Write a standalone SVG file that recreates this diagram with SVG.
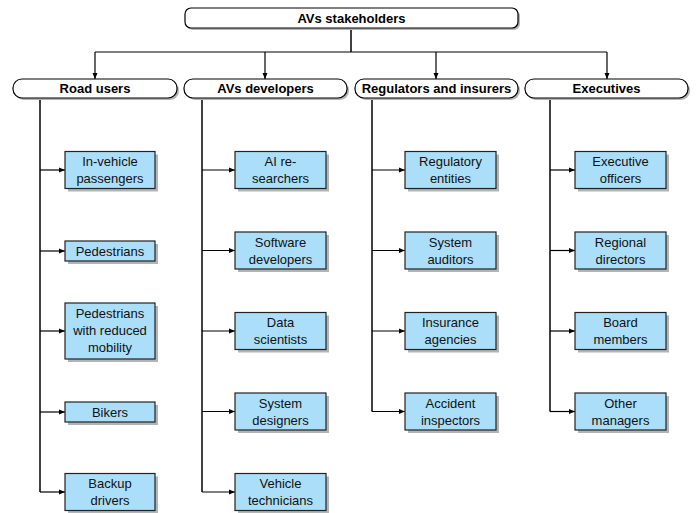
<svg xmlns="http://www.w3.org/2000/svg" width="697" height="513" viewBox="0 0 697 513">
<style>
.root{fill:#fff;stroke:#000;stroke-width:1.2}
.l1{fill:#fff;stroke:#000;stroke-width:1.2}
.leaf{fill:#abdff9;stroke:#222;stroke-width:1.2}
.sh{fill:#b4b4b4}
.tb{font-family:"Liberation Sans",Arial,sans-serif;font-size:13px;font-weight:bold;text-anchor:middle;fill:#000}
.tn{font-family:"Liberation Sans",Arial,sans-serif;font-size:13px;text-anchor:middle;fill:#111}
.ln{fill:none;stroke:#000;stroke-width:1.2}
.tr{fill:none;stroke:#000;stroke-width:1.5}
</style>
<defs>
<marker id="ah" markerUnits="userSpaceOnUse" markerWidth="6" markerHeight="6" refX="6" refY="3" orient="auto">
<path d="M0,0.5 L6,3 L0,5.5 z" fill="#000"/>
</marker>
</defs>

<g id="connectors">
<path class="tr" d="M351,28 V52"/>
<path class="ln" d="M95,52 H607"/>
<path class="ln" d="M95,52 V79" marker-end="url(#ah)"/>
<path class="ln" d="M265,52 V79" marker-end="url(#ah)"/>
<path class="ln" d="M436,52 V79" marker-end="url(#ah)"/>
<path class="ln" d="M607,52 V79" marker-end="url(#ah)"/>

<path class="tr" d="M40,98 V492"/>
<path class="ln" d="M40,170 H65" marker-end="url(#ah)"/>
<path class="ln" d="M40,251 H65" marker-end="url(#ah)"/>
<path class="ln" d="M40,331 H65" marker-end="url(#ah)"/>
<path class="ln" d="M40,412 H65" marker-end="url(#ah)"/>
<path class="ln" d="M40,492 H65" marker-end="url(#ah)"/>

<path class="tr" d="M202,98 V492"/>
<path class="ln" d="M202,170 H235" marker-end="url(#ah)"/>
<path class="ln" d="M202,250.5 H235" marker-end="url(#ah)"/>
<path class="ln" d="M202,331 H235" marker-end="url(#ah)"/>
<path class="ln" d="M202,411.5 H235" marker-end="url(#ah)"/>
<path class="ln" d="M202,492 H235" marker-end="url(#ah)"/>

<path class="tr" d="M372,98 V411.5"/>
<path class="ln" d="M372,170 H405" marker-end="url(#ah)"/>
<path class="ln" d="M372,250.5 H405" marker-end="url(#ah)"/>
<path class="ln" d="M372,331 H405" marker-end="url(#ah)"/>
<path class="ln" d="M372,411.5 H405" marker-end="url(#ah)"/>

<path class="tr" d="M550,98 V411.5"/>
<path class="ln" d="M550,170 H575" marker-end="url(#ah)"/>
<path class="ln" d="M550,250.5 H575" marker-end="url(#ah)"/>
<path class="ln" d="M550,331 H575" marker-end="url(#ah)"/>
<path class="ln" d="M550,411.5 H575" marker-end="url(#ah)"/>
</g>

<g id="root">
<rect class="sh" x="187" y="10" width="333" height="20" rx="6"/>
<rect class="root" x="185" y="8" width="333" height="20" rx="6"/>
<text class="tb" x="351.5" y="22.5">AVs stakeholders</text>
</g>

<g id="road-users">
<rect class="sh" x="15" y="81" width="164" height="19" rx="9"/>
<rect class="l1" x="13" y="79" width="164" height="19" rx="9"/>
<text class="tb" x="95" y="93">Road users</text>
</g>
<g id="avs-developers">
<rect class="sh" x="186" y="81" width="163" height="19" rx="9"/>
<rect class="l1" x="184" y="79" width="163" height="19" rx="9"/>
<text class="tb" x="265.5" y="93">AVs developers</text>
</g>
<g id="regulators">
<rect class="sh" x="357" y="81" width="163" height="19" rx="9"/>
<rect class="l1" x="355" y="79" width="163" height="19" rx="9"/>
<text class="tb" x="436.5" y="93">Regulators and insurers</text>
</g>
<g id="executives">
<rect class="sh" x="527" y="81" width="163" height="19" rx="9"/>
<rect class="l1" x="525" y="79" width="163" height="19" rx="9"/>
<text class="tb" x="606.5" y="93">Executives</text>
</g>

<!-- Road users leaves -->
<g id="in-vehicle-passengers">
<rect class="sh" x="68" y="154.5" width="90" height="37"/>
<rect class="leaf" x="65" y="151.5" width="90" height="37"/>
<text class="tn" x="110" y="166">In-vehicle</text>
<text class="tn" x="110" y="183">passengers</text>
</g>
<g id="pedestrians">
<rect class="sh" x="68" y="244" width="90" height="20"/>
<rect class="leaf" x="65" y="241" width="90" height="20"/>
<text class="tn" x="110" y="255.5">Pedestrians</text>
</g>
<g id="pedestrians-reduced-mobility">
<rect class="sh" x="68" y="306" width="90" height="56"/>
<rect class="leaf" x="65" y="303" width="90" height="56"/>
<text class="tn" x="110" y="317.5">Pedestrians</text>
<text class="tn" x="110" y="334.5">with reduced</text>
<text class="tn" x="110" y="351.5">mobility</text>
</g>
<g id="bikers">
<rect class="sh" x="68" y="405" width="90" height="20"/>
<rect class="leaf" x="65" y="402" width="90" height="20"/>
<text class="tn" x="110" y="416.5">Bikers</text>
</g>
<g id="backup-drivers">
<rect class="sh" x="68" y="476.5" width="90" height="37"/>
<rect class="leaf" x="65" y="473.5" width="90" height="37"/>
<text class="tn" x="110" y="488">Backup</text>
<text class="tn" x="110" y="505">drivers</text>
</g>

<!-- AVs developers leaves -->
<g id="ai-researchers">
<rect class="sh" x="238" y="154.5" width="91" height="37"/>
<rect class="leaf" x="235" y="151.5" width="91" height="37"/>
<text class="tn" x="280.5" y="166">AI re-</text>
<text class="tn" x="280.5" y="183">searchers</text>
</g>
<g id="software-developers">
<rect class="sh" x="238" y="235" width="91" height="37"/>
<rect class="leaf" x="235" y="232" width="91" height="37"/>
<text class="tn" x="280.5" y="246.5">Software</text>
<text class="tn" x="280.5" y="263.5">developers</text>
</g>
<g id="data-scientists">
<rect class="sh" x="238" y="315.5" width="91" height="37"/>
<rect class="leaf" x="235" y="312.5" width="91" height="37"/>
<text class="tn" x="280.5" y="327">Data</text>
<text class="tn" x="280.5" y="344">scientists</text>
</g>
<g id="system-designers">
<rect class="sh" x="238" y="396" width="91" height="37"/>
<rect class="leaf" x="235" y="393" width="91" height="37"/>
<text class="tn" x="280.5" y="407.5">System</text>
<text class="tn" x="280.5" y="424.5">designers</text>
</g>
<g id="vehicle-technicians">
<rect class="sh" x="238" y="476.5" width="91" height="37"/>
<rect class="leaf" x="235" y="473.5" width="91" height="37"/>
<text class="tn" x="280.5" y="488">Vehicle</text>
<text class="tn" x="280.5" y="505">technicians</text>
</g>

<!-- Regulators leaves -->
<g id="regulatory-entities">
<rect class="sh" x="408" y="154.5" width="91" height="37"/>
<rect class="leaf" x="405" y="151.5" width="91" height="37"/>
<text class="tn" x="450.5" y="166">Regulatory</text>
<text class="tn" x="450.5" y="183">entities</text>
</g>
<g id="system-auditors">
<rect class="sh" x="408" y="235" width="91" height="37"/>
<rect class="leaf" x="405" y="232" width="91" height="37"/>
<text class="tn" x="450.5" y="246.5">System</text>
<text class="tn" x="450.5" y="263.5">auditors</text>
</g>
<g id="insurance-agencies">
<rect class="sh" x="408" y="315.5" width="91" height="37"/>
<rect class="leaf" x="405" y="312.5" width="91" height="37"/>
<text class="tn" x="450.5" y="327">Insurance</text>
<text class="tn" x="450.5" y="344">agencies</text>
</g>
<g id="accident-inspectors">
<rect class="sh" x="408" y="396" width="91" height="37"/>
<rect class="leaf" x="405" y="393" width="91" height="37"/>
<text class="tn" x="450.5" y="407.5">Accident</text>
<text class="tn" x="450.5" y="424.5">inspectors</text>
</g>

<!-- Executives leaves -->
<g id="executive-officers">
<rect class="sh" x="578" y="154.5" width="91" height="37"/>
<rect class="leaf" x="575" y="151.5" width="91" height="37"/>
<text class="tn" x="620.5" y="166">Executive</text>
<text class="tn" x="620.5" y="183">officers</text>
</g>
<g id="regional-directors">
<rect class="sh" x="578" y="235" width="91" height="37"/>
<rect class="leaf" x="575" y="232" width="91" height="37"/>
<text class="tn" x="620.5" y="246.5">Regional</text>
<text class="tn" x="620.5" y="263.5">directors</text>
</g>
<g id="board-members">
<rect class="sh" x="578" y="315.5" width="91" height="37"/>
<rect class="leaf" x="575" y="312.5" width="91" height="37"/>
<text class="tn" x="620.5" y="327">Board</text>
<text class="tn" x="620.5" y="344">members</text>
</g>
<g id="other-managers">
<rect class="sh" x="578" y="396" width="91" height="37"/>
<rect class="leaf" x="575" y="393" width="91" height="37"/>
<text class="tn" x="620.5" y="407.5">Other</text>
<text class="tn" x="620.5" y="424.5">managers</text>
</g>
</svg>
